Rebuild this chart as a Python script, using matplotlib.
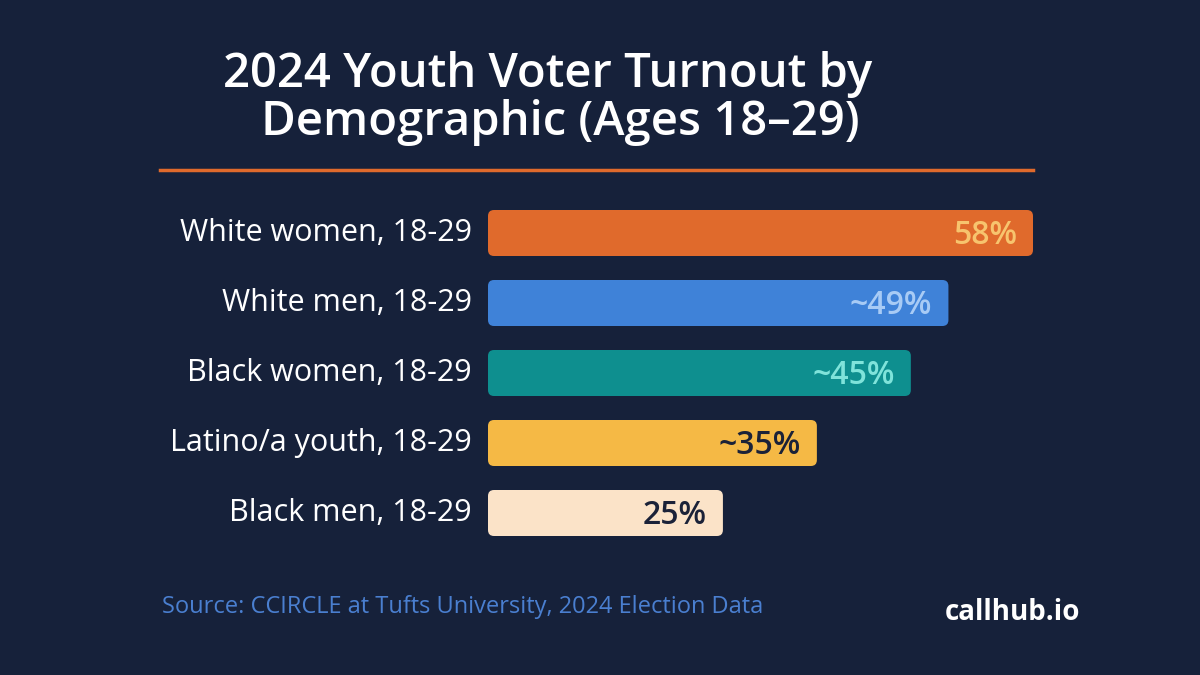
import matplotlib
matplotlib.use('Agg')
import matplotlib.pyplot as plt
from matplotlib.patches import FancyBboxPatch

categories = ['White women, 18-29', 'White men, 18-29', 'Black women, 18-29',
              'Latino/a youth, 18-29', 'Black men, 18-29']
values = [58, 49, 45, 35, 25]
value_labels = ['58%', '~49%', '~45%', '~35%', '25%']

bar_colors = ['#e06a2c', '#3f82d8', '#0e8f8f', '#f5b945', '#fbe3c8']
text_colors = ['#f7c46e', '#a8cbf5', '#7fe3da', '#1b2238', '#1b2238']
bg = '#16213a'

plt.rcParams['font.family'] = ['Open Sans', 'DejaVu Sans']

fig = plt.figure(figsize=(12, 6.75), dpi=100)
fig.patch.set_facecolor(bg)

W, H = 1200, 675
# bar axes in pixel frame: x 488..1033, rows centred 233..513
ax = fig.add_axes([488 / W, 1 - 548 / H, (1033 - 488) / W, (548 - 198) / H])
ax.set_facecolor(bg)
ax.set_xlim(0, max(values))
ax.set_ylim(len(values) - 0.5, -0.5)
ax.axis('off')

px_x = max(values) / (1033 - 488)
px_y = len(values) / (548 - 198)
bh = 46 * px_y
for i, (v, c, lab, tc, cat) in enumerate(zip(values, bar_colors, value_labels, text_colors, categories)):
    ax.add_patch(FancyBboxPatch((0, i - bh / 2), v, bh,
                                boxstyle='round,pad=0,rounding_size=%f' % (6 * px_x),
                                mutation_aspect=px_y / px_x, fc=c, ec='none'))
    ax.text(v - 16 * px_x, i + 2 * px_y, lab, ha='right', va='center', color=tc,
            fontsize=23, fontweight='semibold')
    ax.text(-16 * px_x, i, cat, ha='right', va='center', color='white',
            fontsize=22, clip_on=False)

fig.text(548 / W, 1 - 75 / H, '2024 Youth Voter Turnout by', ha='center', va='center',
         color='white', fontsize=34, fontweight='semibold')
fig.text(560 / W, 1 - 123 / H, 'Demographic (Ages 18\u201329)', ha='center', va='center',
         color='white', fontsize=34, fontweight='semibold')
fig.add_artist(plt.Line2D([160 / W, 1033 / W], [1 - 170 / H] * 2, color='#e06a2c', lw=2.5))

fig.text(162 / W, 1 - 607 / H, 'Source: CCIRCLE at Tufts University, 2024 Election Data',
         ha='left', va='center', color='#4a7fd0', fontsize=17)
fig.text(1080 / W, 1 - 613 / H, 'callhub.io', ha='right', va='center',
         color='white', fontsize=20, fontweight='bold')

fig.savefig('out.png', dpi=100, facecolor=bg)
